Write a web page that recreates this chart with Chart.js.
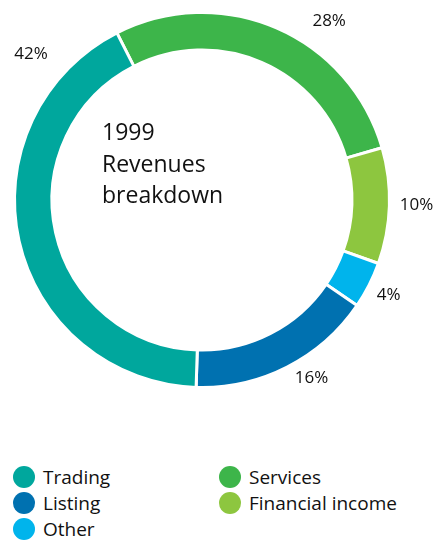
<!DOCTYPE html>
<html>
<head>
<meta charset="utf-8">
<script src="https://cdn.jsdelivr.net/npm/chart.js@4/dist/chart.umd.min.js"></script>
<style>
  html, body { margin: 0; padding: 0; background: #fff; }
  body { width: 436px; height: 541px; position: relative; overflow: hidden; font-family: "Open Sans", sans-serif; }
  #wrap { position: absolute; left: 0; top: 0; width: 436px; height: 420px; }
  #legend { position: absolute; left: 0; top: 464px; width: 436px; }
  .item { position: absolute; display: flex; align-items: center; font-size: 19px; font-weight: 500; color: #111; height: 26px; }
  .dot { width: 22px; height: 22px; border-radius: 50%; margin-right: 8px; }
</style>
</head>
<body>
<div id="wrap"><canvas id="chart" width="436" height="420"></canvas></div>
<div id="legend"></div>
<script>
// segments in clockwise order from the top-left
const labels = ['Services', 'Financial income', 'Other', 'Listing', 'Trading'];
const shares = [28, 10, 4, 16, 42];
const colors = ['#3db54a', '#8dc63f', '#00b4ec', '#0071b0', '#00a79d'];
const titleLines = ['1999', 'Revenues', 'breakdown'];
const legendOrder = ['Trading', 'Listing', 'Other', 'Services', 'Financial income'];

// percent labels outside the ring: angle tweak (deg) and distance past the outer edge
const pctLabels = {
  id: 'pctLabels',
  afterDatasetsDraw(chart, args, opts) {
    const ctx = chart.ctx;
    const arcs = chart.getDatasetMeta(0).data;
    ctx.save();
    ctx.font = '500 17px "Open Sans", sans-serif';
    ctx.fillStyle = '#111';
    ctx.textAlign = 'center';
    ctx.textBaseline = 'middle';
    arcs.forEach((arc, i) => {
      const p = arc.getProps(['x', 'y', 'startAngle', 'endAngle', 'outerRadius']);
      const a = (p.startAngle + p.endAngle) / 2 + opts.shift[i] * Math.PI / 180;
      const r = p.outerRadius + opts.gap[i];
      ctx.fillText(shares[i] + '%', p.x + r * Math.cos(a), p.y + r * Math.sin(a));
    });
    ctx.restore();
  }
};

const centerTitle = {
  id: 'centerTitle',
  afterDraw(chart) {
    const ctx = chart.ctx;
    const arc = chart.getDatasetMeta(0).data[0];
    ctx.save();
    ctx.font = '500 23px "Open Sans", sans-serif';
    ctx.fillStyle = '#111';
    ctx.textAlign = 'left';
    ctx.textBaseline = 'alphabetic';
    titleLines.forEach((t, i) => {
      ctx.fillText(t, arc.x - 100, arc.y - 60 + i * 31.5);
    });
    ctx.restore();
  }
};

new Chart(document.getElementById('chart'), {
  type: 'doughnut',
  data: {
    labels: labels,
    datasets: [{
      data: shares,
      backgroundColor: colors,
      borderColor: '#fff',
      borderWidth: 3,
      hoverOffset: 0
    }]
  },
  options: {
    responsive: false,
    animation: false,
    rotation: -27,
    cutout: '80%',
    layout: { padding: { left: 13, right: 45, top: 11, bottom: 31 } },
    plugins: {
      legend: { display: false },
      tooltip: { enabled: false },
      pctLabels: { shift: [12, -0.5, 0, -4.5, 53], gap: [32, 27, 22, 22, 37] }
    }
  },
  plugins: [pctLabels, centerTitle]
});

// two-column legend
const legend = document.getElementById('legend');
legendOrder.forEach((name, k) => {
  const col = k < 3 ? 0 : 1;
  const row = k < 3 ? k : k - 3;
  const el = document.createElement('div');
  el.className = 'item';
  el.style.left = (col ? 219 : 13) + 'px';
  el.style.top = (row * 26) + 'px';
  el.innerHTML = '<span class="dot" style="background:' + colors[labels.indexOf(name)] + '"></span>' + name;
  legend.appendChild(el);
});
</script>
</body>
</html>
